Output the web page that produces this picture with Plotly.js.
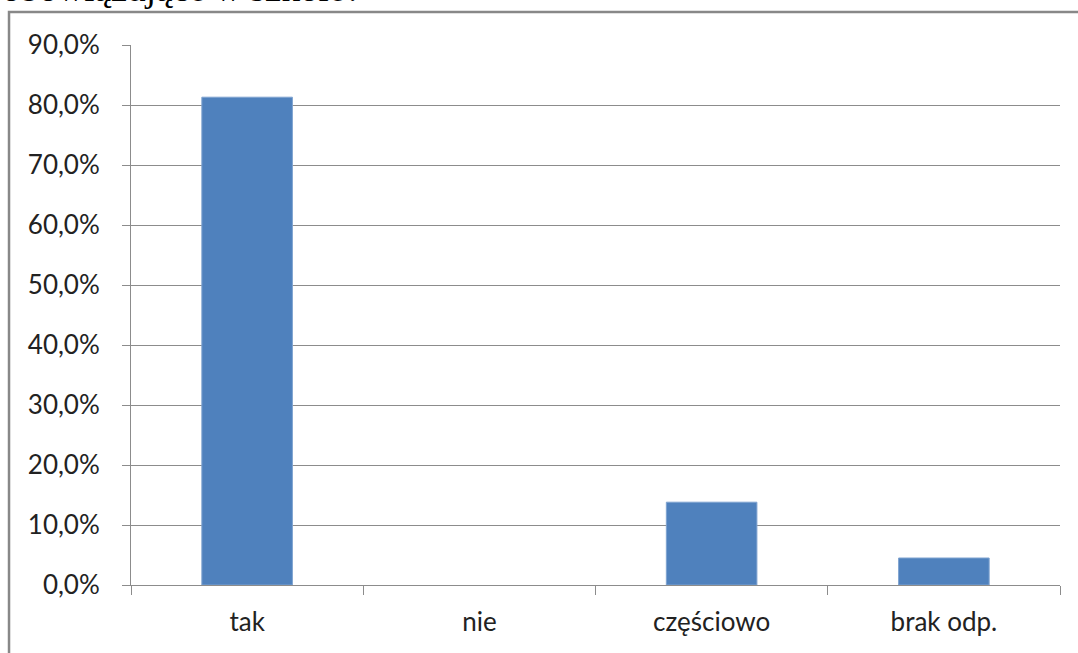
<!DOCTYPE html>
<html>
<head>
<meta charset="utf-8">
<script src="https://cdn.plot.ly/plotly-3.0.1.min.js"></script>
<style>html,body{margin:0;padding:0;background:#fff;overflow:hidden}#chart{width:1078px;height:653px}</style>
</head>
<body>
<div id="chart"></div>
<script>
const categories = ["tak", "nie", "częściowo", "brak odp."];
const values = [0.813, 0.0, 0.138, 0.045];
const yTicks = [0, 0.1, 0.2, 0.3, 0.4, 0.5, 0.6, 0.7, 0.8, 0.9];
const cutTitle = "obowiązujące w szkole?";

const trace = {
  type: "bar",
  x: categories,
  y: values,
  width: 0.39,
  marker: {color: "#4F81BD", line: {color: "#7FA3D0", width: values.map(v => v > 0 ? 1 : 0)}},
  hoverinfo: "skip"
};

const layout = {
  width: 1078, height: 653,
  margin: {l: 131, r: 18, t: 45, b: 68},
  paper_bgcolor: "#ffffff",
  plot_bgcolor: "#ffffff",
  separators: ", ",
  showlegend: false,
  font: {family: "Lato, 'Open Sans', sans-serif", size: 26, color: "#222"},
  xaxis: {
    type: "category",
    showgrid: false,
    showline: true, linecolor: "#8c8c8c", linewidth: 1,
    ticks: "outside", tickson: "boundaries", ticklen: 9, tickcolor: "#8c8c8c",
    ticklabelstandoff: 14,
    tickfont: {size: 26, color: "#222"},
    fixedrange: true
  },
  yaxis: {
    range: [0, 0.9],
    tickvals: yTicks,
    tickformat: ".1%",
    showgrid: true, gridcolor: "#8c8c8c", gridwidth: 1,
    showline: true, linecolor: "#8c8c8c", linewidth: 1,
    ticks: "outside", ticklen: 8, tickcolor: "#8c8c8c",
    ticklabelstandoff: 17,
    zeroline: false,
    tickfont: {size: 26, color: "#222"},
    fixedrange: true
  },
  shapes: [{
    type: "rect", xref: "paper", yref: "paper",
    x0: -0.1313, x1: 1.05, y0: -0.2, y1: 1.0611,
    line: {color: "#888888", width: 2.5}, fillcolor: "rgba(0,0,0,0)"
  }],
  annotations: [{
    text: cutTitle, xref: "paper", yref: "paper",
    x: -0.141, xanchor: "left", y: 1.063, yanchor: "bottom",
    showarrow: false,
    font: {family: "'Liberation Serif', 'DejaVu Serif', serif", size: 37, color: "#000"}
  }]
};

Plotly.newPlot("chart", [trace], layout, {displayModeBar: false, staticPlot: true});
</script>
</body>
</html>
